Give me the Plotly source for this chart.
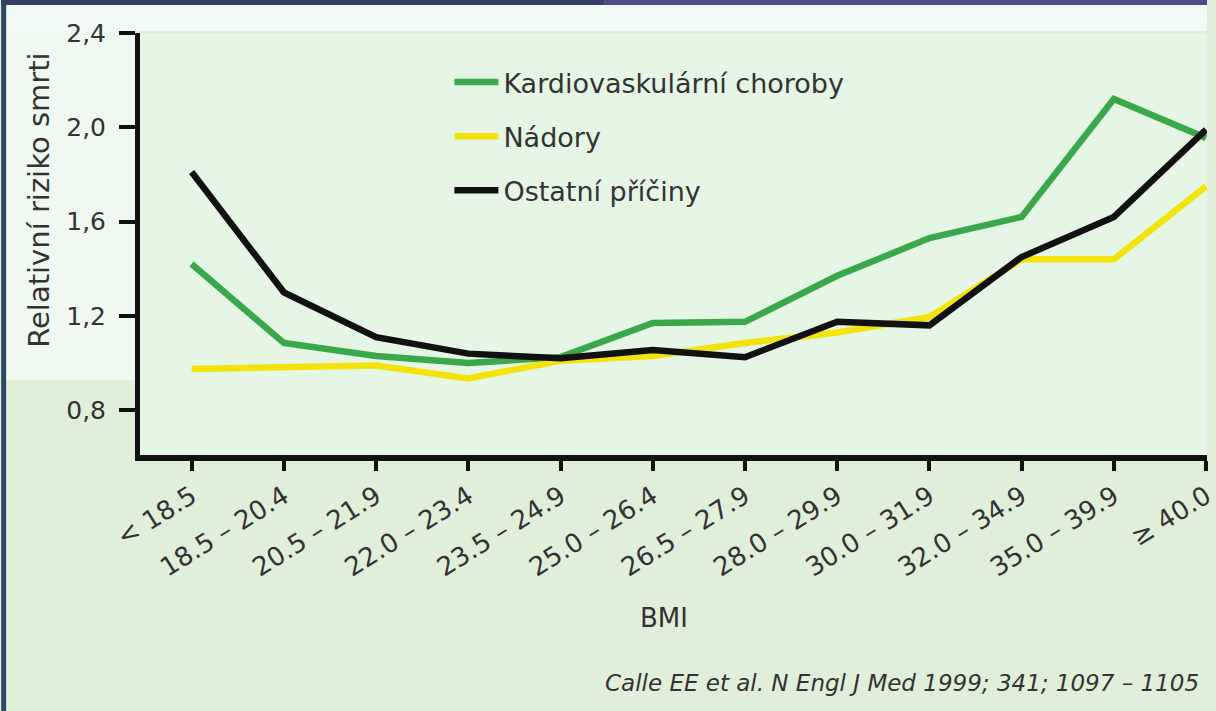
import plotly.graph_objects as go

categories = ["< 18.5", "18.5 – 20.4", "20.5 – 21.9", "22.0 – 23.4", "23.5 – 24.9",
              "25.0 – 26.4", "26.5 – 27.9", "28.0 – 29.9", "30.0 – 31.9",
              "32.0 – 34.9", "35.0 – 39.9", "≥ 40.0"]
kardio = [1.42, 1.085, 1.03, 1.00, 1.025, 1.17, 1.175, 1.37, 1.53, 1.62, 2.12, 1.955]
nadory = [0.975, 0.98, 0.99, 0.935, 1.01, 1.03, 1.085, 1.13, 1.195, 1.44, 1.44, 1.75]
ostatni = [1.81, 1.30, 1.11, 1.04, 1.02, 1.055, 1.025, 1.175, 1.16, 1.45, 1.62, 1.99]
y_ticks = [0.8, 1.2, 1.6, 2.0, 2.4]
y_tick_labels = ["0,8", "1,2", "1,6", "2,0", "2,4"]

W, H = 1216, 711
L, R, T, B = 140, 0, 33, 256
PW, PH = W - L - R, H - T - B


def px(x):
    return (x - L) / PW


def py(y):
    return (H - B - y) / PH


FONT = "DejaVu Sans"
xi = list(range(len(categories)))

fig = go.Figure()
fig.add_trace(go.Scatter(x=xi, y=kardio, mode="lines", name="Kardiovaskulární choroby",
                         line=dict(color="#3aa84a", width=6.5), legendgroup="a"))
fig.add_trace(go.Scatter(x=xi, y=nadory, mode="lines", name="Nádory",
                         line=dict(color="#f4e20c", width=6.5), legendgroup="b"))
fig.add_trace(go.Scatter(x=xi, y=ostatni, mode="lines", name="Ostatní příčiny",
                         line=dict(color="#111111", width=6.5), legendgroup="c"))

shapes = [
    # whitish upper band and left band (outside plot area)
    dict(type="rect", xref="paper", yref="paper", x0=px(0), x1=px(W), y0=py(31), y1=py(0),
         fillcolor="#f1faf6", line=dict(width=0), layer="below"),
    dict(type="rect", xref="paper", yref="paper", x0=px(0), x1=px(L - 4), y0=py(380), y1=py(31),
         fillcolor="#eff9f1", line=dict(width=0), layer="below"),
    # dark frame at top and left
    dict(type="rect", xref="paper", yref="paper", x0=px(0), x1=px(W / 2), y0=py(5), y1=py(0),
         fillcolor="#34406a", line=dict(width=0)),
    dict(type="rect", xref="paper", yref="paper", x0=px(W / 2), x1=px(W), y0=py(5), y1=py(0),
         fillcolor="#4f4a84", line=dict(width=0)),
    dict(type="rect", xref="paper", yref="paper", x0=px(0), x1=px(5), y0=py(H), y1=py(0),
         fillcolor="#2b4763", line=dict(width=0)),
]

annotations = [
    dict(text="Relativní riziko smrti", textangle=-90, xref="paper", yref="paper",
         x=px(38), y=py(200), xanchor="center", yanchor="middle", showarrow=False,
         font=dict(family=FONT, size=29, color="#333333")),
    dict(text="BMI", xref="paper", yref="paper", x=px(668), y=py(618),
         xanchor="center", yanchor="middle", showarrow=False,
         font=dict(family=FONT, size=26, color="#333333")),
    dict(text="<i>Calle EE et al. N Engl J Med 1999; 341; 1097 – 1105</i>", xref="paper", yref="paper",
         x=px(1210), y=py(683), xanchor="right", yanchor="middle", showarrow=False,
         font=dict(family=FONT, size=23, color="#333333")),
]

fig.update_layout(
    width=W, height=H,
    margin=dict(l=L, r=R, t=T, b=B),
    paper_bgcolor="#e0f0d8",
    plot_bgcolor="#e5f6e5",
    shapes=shapes,
    annotations=annotations,
    showlegend=True,
    legend=dict(x=px(452), y=py(58), xanchor="left", yanchor="top",
                bgcolor="rgba(0,0,0,0)", font=dict(family=FONT, size=27, color="#333333"),
                tracegroupgap=16, itemwidth=44),
    xaxis=dict(range=[-0.56, 11.01], tickmode="array", tickvals=xi, ticktext=categories,
               tickangle=-32, ticks="outside", ticklen=10, tickwidth=4, tickcolor="#111111",
               ticklabeloverflow="allow",
               showline=True, linecolor="#111111", linewidth=6, showgrid=False, zeroline=False,
               tickfont=dict(family=FONT, size=26, color="#333333")),
    yaxis=dict(range=[0.61, 2.4], tickmode="array", tickvals=y_ticks, ticktext=y_tick_labels,
               ticks="outside", ticklen=16, tickwidth=4, tickcolor="#111111", ticklabelstandoff=8,
               showline=True, linecolor="#111111", linewidth=5, showgrid=False, zeroline=False,
               tickfont=dict(family=FONT, size=25, color="#333333")),
)

fig.write_html("out.html", config={"displayModeBar": False},
               post_script="document.body.style.margin='0';document.body.style.overflow='hidden';")
